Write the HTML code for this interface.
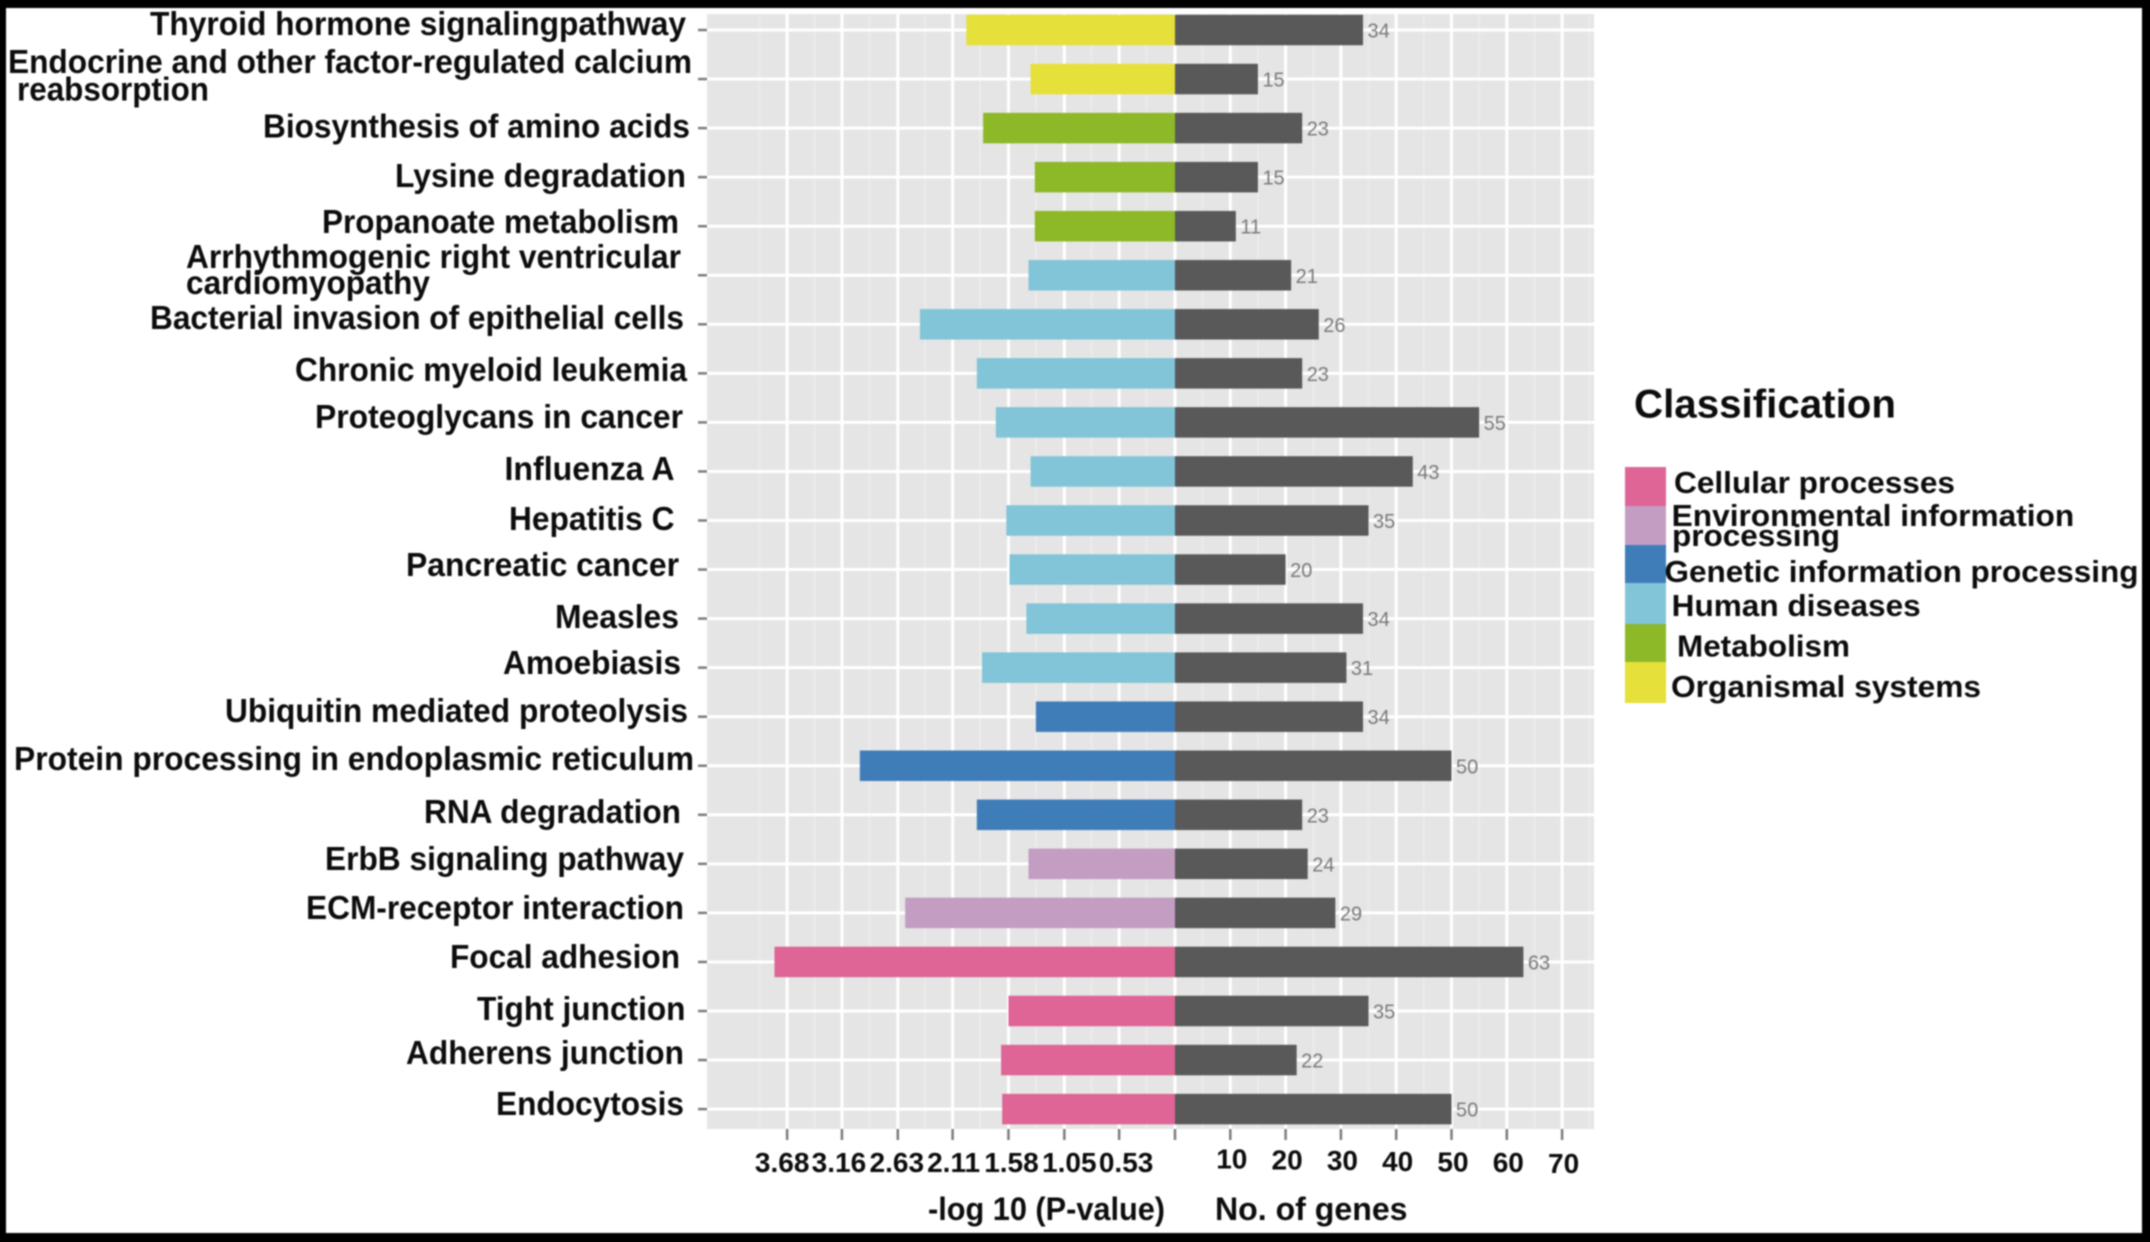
<!DOCTYPE html>
<html lang="en">
<head>
<meta charset="utf-8">
<title>Pathway enrichment chart</title>
<style>
  html, body { margin: 0; padding: 0; width: 2150px; height: 1242px; overflow: hidden; background: #000; }
  svg { display: block; filter: blur(0.8px); font-family: "Liberation Sans", Arial, sans-serif; }
  .cat { font-size: 33px; font-weight: 700; fill: #0c0c0c; }
  .leg { font-size: 31px; font-weight: 700; fill: #0c0c0c; }
  .ttl { font-size: 32px; font-weight: 700; fill: #0c0c0c; }
  .tick-label { font-size: 28px; font-weight: 700; fill: #0c0c0c; text-anchor: middle; }
  .val { font-size: 20px; fill: #7a7a7a; }
</style>
</head>
<body>
<svg id="chart" width="2150" height="1242" viewBox="0 0 2150 1242" xmlns="http://www.w3.org/2000/svg">
  <rect x="6" y="8" width="2136" height="1225" fill="#ffffff"/>
  <rect x="707" y="14" width="887" height="1115" fill="#e5e5e5"/>
  <g id="grid"></g>
  <g id="bars"></g>
  <g id="ticks"></g>

  <g>
    <text class="cat" x="150" y="35" textLength="536" lengthAdjust="spacingAndGlyphs">Thyroid hormone signalingpathway</text>
    <text class="cat" x="8" y="73" textLength="684" lengthAdjust="spacingAndGlyphs">Endocrine and other factor-regulated calcium</text>
    <text class="cat" x="17" y="100.7" textLength="192" lengthAdjust="spacingAndGlyphs">reabsorption</text>
    <text class="cat" x="263" y="137.7" textLength="427" lengthAdjust="spacingAndGlyphs">Biosynthesis of amino acids</text>
    <text class="cat" x="395" y="187" textLength="291" lengthAdjust="spacingAndGlyphs">Lysine degradation</text>
    <text class="cat" x="322" y="233" textLength="357" lengthAdjust="spacingAndGlyphs">Propanoate metabolism</text>
    <text class="cat" x="186" y="268" textLength="495" lengthAdjust="spacingAndGlyphs">Arrhythmogenic right ventricular</text>
    <text class="cat" x="186" y="294" textLength="244" lengthAdjust="spacingAndGlyphs">cardiomyopathy</text>
    <text class="cat" x="150" y="329" textLength="534" lengthAdjust="spacingAndGlyphs">Bacterial invasion of epithelial cells</text>
    <text class="cat" x="295" y="381" textLength="392" lengthAdjust="spacingAndGlyphs">Chronic myeloid leukemia</text>
    <text class="cat" x="315" y="428" textLength="368" lengthAdjust="spacingAndGlyphs">Proteoglycans in cancer</text>
    <text class="cat" x="504.5" y="480" textLength="170" lengthAdjust="spacingAndGlyphs">Influenza A</text>
    <text class="cat" x="509" y="530" textLength="165.5" lengthAdjust="spacingAndGlyphs">Hepatitis C</text>
    <text class="cat" x="406" y="576" textLength="273" lengthAdjust="spacingAndGlyphs">Pancreatic cancer</text>
    <text class="cat" x="555" y="628" textLength="124" lengthAdjust="spacingAndGlyphs">Measles</text>
    <text class="cat" x="503" y="674" textLength="178" lengthAdjust="spacingAndGlyphs">Amoebiasis</text>
    <text class="cat" x="225" y="722" textLength="463" lengthAdjust="spacingAndGlyphs">Ubiquitin mediated proteolysis</text>
    <text class="cat" x="14" y="770" textLength="680" lengthAdjust="spacingAndGlyphs">Protein processing in endoplasmic reticulum</text>
    <text class="cat" x="424" y="823" textLength="257" lengthAdjust="spacingAndGlyphs">RNA degradation</text>
    <text class="cat" x="325" y="870" textLength="359" lengthAdjust="spacingAndGlyphs">ErbB signaling pathway</text>
    <text class="cat" x="306" y="919" textLength="378" lengthAdjust="spacingAndGlyphs">ECM-receptor interaction</text>
    <text class="cat" x="450" y="968" textLength="230" lengthAdjust="spacingAndGlyphs">Focal adhesion</text>
    <text class="cat" x="477" y="1020" textLength="208.5" lengthAdjust="spacingAndGlyphs">Tight junction</text>
    <text class="cat" x="406" y="1064" textLength="278" lengthAdjust="spacingAndGlyphs">Adherens junction</text>
    <text class="cat" x="496" y="1115" textLength="188" lengthAdjust="spacingAndGlyphs">Endocytosis</text>
  </g>

  <text class="ttl" x="928" y="1220" textLength="237" lengthAdjust="spacingAndGlyphs">-log 10 (P-value)</text>
  <text class="ttl" x="1215" y="1220" textLength="192.5" lengthAdjust="spacingAndGlyphs">No. of genes</text>

  <g>
    <text x="1634" y="417.7" font-size="40" font-weight="700" fill="#0c0c0c" textLength="262" lengthAdjust="spacingAndGlyphs">Classification</text>
    <rect x="1625" y="467" width="41" height="39" fill="#de6596"/>
    <rect x="1625" y="506" width="41" height="39" fill="#c39dc2"/>
    <rect x="1625" y="545" width="41" height="38" fill="#3f7db9"/>
    <rect x="1625" y="583" width="41" height="41" fill="#82c4d8"/>
    <rect x="1625" y="624" width="41" height="38" fill="#8db828"/>
    <rect x="1625" y="662" width="41" height="41" fill="#e6e03a"/>
    <text class="leg" x="1674" y="493" textLength="281" lengthAdjust="spacingAndGlyphs">Cellular processes</text>
    <text class="leg" x="1671.7" y="526" textLength="402.5" lengthAdjust="spacingAndGlyphs">Environmental information</text>
    <text class="leg" x="1672" y="546" textLength="168" lengthAdjust="spacingAndGlyphs">processing</text>
    <text class="leg" x="1664.5" y="582" textLength="474" lengthAdjust="spacingAndGlyphs">Genetic information processing</text>
    <text class="leg" x="1671.7" y="616" textLength="249" lengthAdjust="spacingAndGlyphs">Human diseases</text>
    <text class="leg" x="1677" y="656.7" textLength="173" lengthAdjust="spacingAndGlyphs">Metabolism</text>
    <text class="leg" x="1671" y="697" textLength="310" lengthAdjust="spacingAndGlyphs">Organismal systems</text>
  </g>
</svg>

<script>
const categories = ["Thyroid hormone signaling pathway","Endocrine and other factor-regulated calcium reabsorption","Biosynthesis of amino acids","Lysine degradation","Propanoate metabolism","Arrhythmogenic right ventricular cardiomyopathy","Bacterial invasion of epithelial cells","Chronic myeloid leukemia","Proteoglycans in cancer","Influenza A","Hepatitis C","Pancreatic cancer","Measles","Amoebiasis","Ubiquitin mediated proteolysis","Protein processing in endoplasmic reticulum","RNA degradation","ErbB signaling pathway","ECM-receptor interaction","Focal adhesion","Tight junction","Adherens junction","Endocytosis"];
const classes = ["Organismal","Organismal","Metabolism","Metabolism","Metabolism","Human","Human","Human","Human","Human","Human","Human","Human","Human","Genetic","Genetic","Genetic","Environmental","Environmental","Cellular","Cellular","Cellular","Cellular"];
const pValues = [1.98,1.37,1.82,1.33,1.33,1.39,2.42,1.88,1.70,1.37,1.60,1.57,1.41,1.83,1.32,2.99,1.88,1.39,2.56,3.80,1.58,1.65,1.64];
const geneCounts = [34,15,23,15,11,21,26,23,55,43,35,20,34,31,34,50,23,24,29,63,35,22,50];
const pTicks = [3.68,3.16,2.63,2.11,1.58,1.05,0.53];
const geneTicks = [10,20,30,40,50,60,70];

const classColors = { Cellular:"#de6596", Environmental:"#c39dc2", Genetic:"#3f7db9", Human:"#82c4d8", Metabolism:"#8db828", Organismal:"#e6e03a" };
const SVG_NS = "http://www.w3.org/2000/svg";
const ZERO_X = 1175, P_SCALE = 105.4, GENE_SCALE = 5.53;
const ROW_START = 30, ROW_STEP = 49.05, BAR_H = 30.5;
const PANEL_TOP = 14, PANEL_BOTTOM = 1129, PANEL_LEFT = 707, PANEL_RIGHT = 1594;

function xGene(v) { return ZERO_X + v * GENE_SCALE; }
function xP(v) { return ZERO_X - v * P_SCALE; }
function yRow(i) { return ROW_START + i * ROW_STEP; }
function slug(s) { return s.toLowerCase().replace(/[^a-z0-9]+/g, "-"); }
function make(tag, attrs, parent) {
  const el = document.createElementNS(SVG_NS, tag);
  for (const k in attrs) el.setAttribute(k, attrs[k]);
  parent.appendChild(el);
  return el;
}

const gridG = document.getElementById("grid");
const barsG = document.getElementById("bars");
const ticksG = document.getElementById("ticks");

function vGrid(x, minor) {
  const line = make("line", { x1:x, x2:x, y1:PANEL_TOP, y2:PANEL_BOTTOM, stroke: minor ? "#ebebeb" : "#ffffff", "stroke-width": minor ? 2 : 3 }, gridG);
  
  
}
function xTick(x) {
  const t = make("line", { x1:x, x2:x, y1:PANEL_BOTTOM, y2:1140, stroke:"#7c7c7c", "stroke-width":2.5 }, ticksG);
  
  
}
function xTickLabel(x, y, label) {
  const txt = make("text", { x:x, y:y, class:"tick-label" }, ticksG);
  txt.textContent = label;
  
  
}

const pStep = pTicks[0] - pTicks[1];
const geneStep = geneTicks[1] - geneTicks[0];

pTicks.forEach(function (v) {
  vGrid(xP(v - pStep / 2), true);
  vGrid(xP(v), false);
  xTick(xP(v));
  xTickLabel(xP(v) + 9 - v * 3.8, 1172, v.toFixed(2));
});
vGrid(xP(pTicks[0] + pStep / 2), true);
vGrid(ZERO_X, false);
xTick(ZERO_X);
geneTicks.forEach(function (v) {
  vGrid(xGene(v - geneStep / 2), true);
  vGrid(xGene(v), false);
  xTick(xGene(v));
  xTickLabel(xGene(v) + 1.5, 1168 + v * 0.07, String(v));
});
vGrid(xGene(geneTicks[geneTicks.length - 1] + geneStep / 2), true);

categories.forEach(function (name, i) {
  const cy = yRow(i);
  const key = slug(name);

  const h = make("line", { x1:PANEL_LEFT, x2:PANEL_RIGHT, y1:cy, y2:cy, stroke:"#ffffff", "stroke-width":3 }, gridG);
  
  

  const yt = make("line", { x1:698, x2:707, y1:cy, y2:cy, stroke:"#7c7c7c", "stroke-width":2.5 }, ticksG);
  
  

  const left = xP(pValues[i]);
  const pBar = make("rect", { x:left, y:cy - BAR_H / 2, width:ZERO_X - left, height:BAR_H, fill:classColors[classes[i]] }, barsG);
  
  

  const right = xGene(geneCounts[i]);
  const gBar = make("rect", { x:ZERO_X, y:cy - BAR_H / 2, width:right - ZERO_X, height:BAR_H, fill:"#595959" }, barsG);
  
  

  const val = make("text", { x:right + 4.5, y:cy + 7.5, class:"val" }, barsG);
  val.textContent = String(geneCounts[i]);
  
  
});
</script>
</body>
</html>
